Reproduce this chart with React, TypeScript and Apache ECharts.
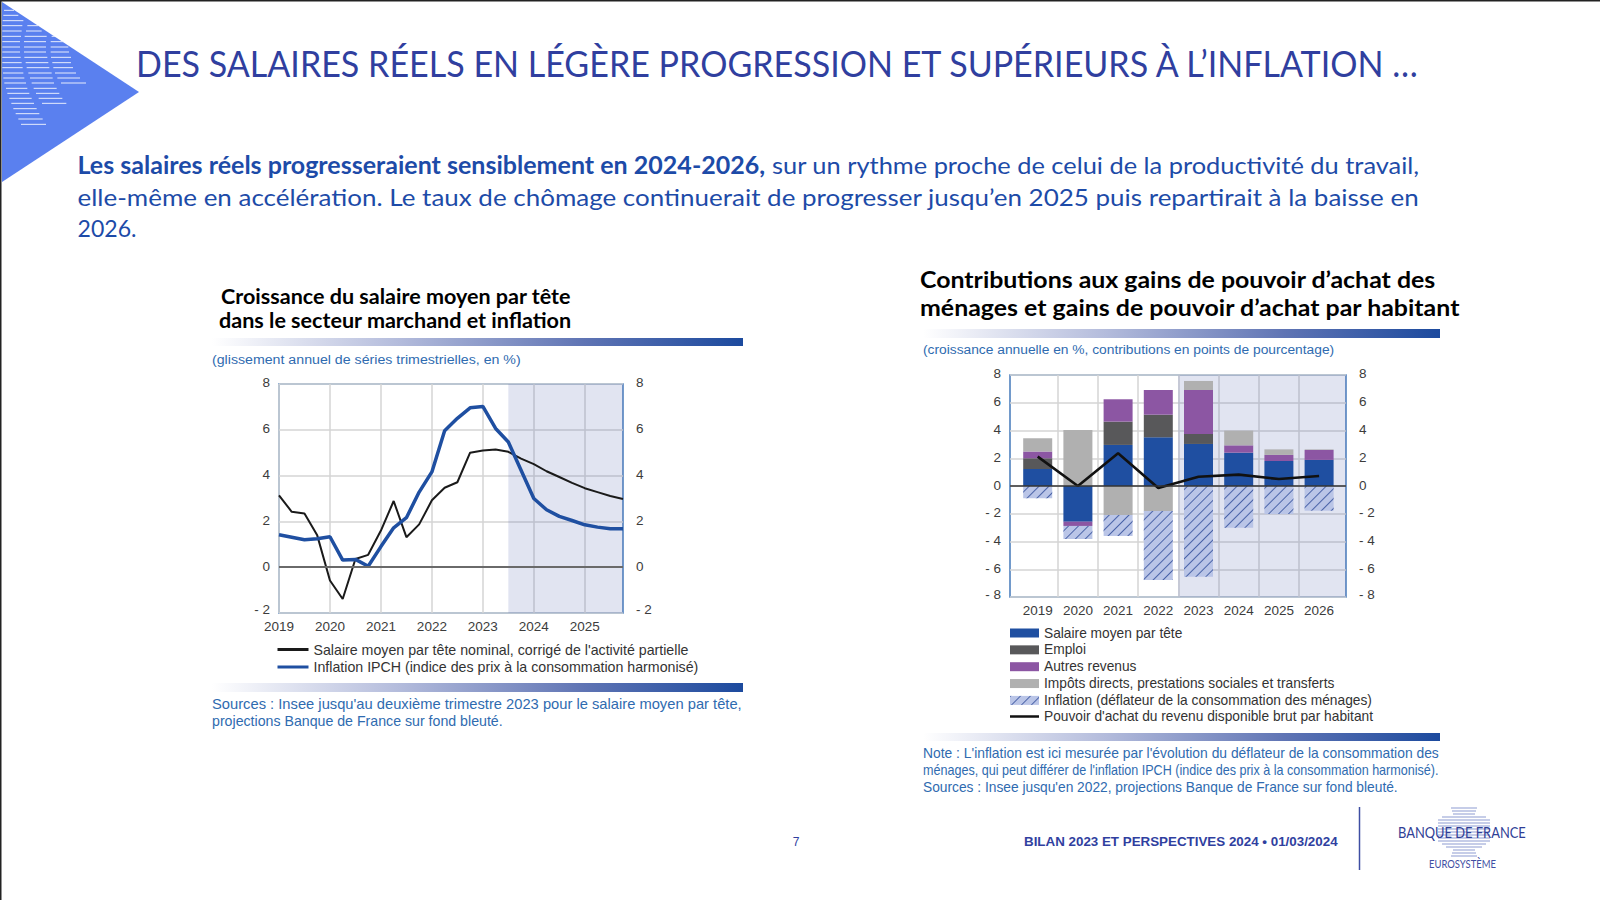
import React, { useEffect, useRef } from "react";
import * as echarts from "echarts";

const FONT_UI = '"Liberation Sans", Arial, sans-serif';

// Left chart data
const quarters = [
  "2019T1","2019T2","2019T3","2019T4","2020T1","2020T2","2020T3","2020T4",
  "2021T1","2021T2","2021T3","2021T4","2022T1","2022T2","2022T3","2022T4",
  "2023T1","2023T2","2023T3","2023T4","2024T1","2024T2","2024T3","2024T4",
  "2025T1","2025T2","2025T3","2025T4",
];
const salaireNominal = [
  3.14,2.42,2.34,1.39,-0.58,-1.39,0.36,0.54,1.6,2.89,1.31,1.87,2.92,3.47,3.71,5.0,
  5.1,5.14,5.04,4.74,4.5,4.19,3.94,3.68,3.45,3.28,3.11,2.98,
];
const inflationIpch = [
  1.42,1.31,1.2,1.24,1.33,0.31,0.34,0.04,0.9,1.72,2.16,3.28,4.16,5.96,6.5,6.96,
  7.02,6.06,5.47,4.23,3.0,2.51,2.22,2.04,1.85,1.75,1.68,1.68,
];

// Right chart data
const years = ["2019","2020","2021","2022","2023","2024","2025","2026"];
const salaireContrib = [1.23,-2.57,2.96,3.51,3.03,2.4,1.8,1.88];
const emploi = [0.77,0,1.68,1.63,0.72,0,0,0];
const autresRevenus = [0.48,-0.31,1.61,1.78,3.17,0.53,0.44,0.72];
const impots = [0.96,4.04,-2.09,-1.8,0.65,1.06,0.4,0.04];
const inflationDeflateur = [-0.89,-0.94,-1.51,-4.98,-6.54,-3.0,-2.02,-1.78];
const pouvoirAchat = [2.12,0.0,2.36,-0.14,0.67,0.82,0.5,0.72];

const NAME_SAL_NOM = "Salaire moyen par tête nominal, corrigé de l'activité partielle";
const NAME_IPCH = "Inflation IPCH (indice des prix à la consommation harmonisé)";
const NAME_SAL = "Salaire moyen par tête";
const NAME_EMP = "Emploi";
const NAME_AUT = "Autres revenus";
const NAME_IMP = "Impôts directs, prestations sociales et transferts";
const NAME_INF = "Inflation (déflateur de la consommation des ménages)";
const NAME_POU = "Pouvoir d'achat du revenu disponible brut par habitant";

const SHADE = "rgba(90,105,180,0.18)";
const FRAME = "#4479ba";
const GRIDLINE = "#d4d4d4";
const AXISTXT = "#3c3c3c";
const BLUE = "#1f4fa1";
const NOTE = "#2f6bb0";
const TITLE_BLUE = "#303f9f";
const BODY_BLUE = "#1d4ba8";

const rowsA: number[][] = [
  [31,12,42],[46,10,55],[62,8,70],[77,7,67],[93,7,65],[109,7,63],[125,7,60],[141,7,60],[156,7,60],[172,7,62],
  [188,7,65],[203,7,68],[219,9,70],[234,10,73],[249,13,78],[265,18,82],[280,22,88],[295,28,95],[310,34,102],
  [326,40,110],[341,47,118],[357,55,128],[373,63,138],
  [77,82,115],[93,78,125],[109,74,140],[125,72,138],[141,72,138],[156,72,138],[172,73,142],[188,77,145],
  [203,80,148],[219,85,155],[234,90,158],[249,95,162],[265,101,170],[280,108,178],[295,116,187],[310,126,199],
  [109,155,165],[125,152,190],[141,152,205],[156,152,207],[172,153,213],[188,157,213],[203,160,219],[219,165,228],
  [234,172,240],[249,183,258],
];
const starRows: number[][] = [
  [-24,13],[-21,12],[-18,11],[-15,22],[-12,26],[-9,26],[-6,26],[-3,26],[0,26],[3,26],[6,26],[9,26],[12,22],[15,18],[18,11],[21,12],[24,13],
];

const measureCtx = document.createElement("canvas").getContext("2d")!;

function fit(text: string, x: number, y: number, width: number, font: string, fill: string) {
  measureCtx.font = font;
  const w = measureCtx.measureText(text).width;
  return {
    type: "text", x, y, scaleX: width / w, silent: true,
    style: { text, font, fill, textAlign: "left", textVerticalAlign: "middle", textBaseline: "middle" },
  };
}

function gradientBar(x: number, y: number, w: number, h: number) {
  return {
    type: "rect", silent: true, shape: { x, y, width: w, height: h },
    style: {
      fill: new echarts.graphic.LinearGradient(0, 0, 1, 0, [
        { offset: 0, color: "#ffffff" },
        { offset: 0.35, color: "#b4bcdc" },
        { offset: 0.7, color: "#5f74b4" },
        { offset: 1, color: "#1c4a9e" },
      ]),
    },
  };
}

function buildGraphic() {
  const els: any[] = [];
  els.push({ type: "rect", silent: true, shape: { x: 0, y: 0, width: 1600, height: 1.5 }, style: { fill: "#222" } });
  els.push({ type: "rect", silent: true, shape: { x: 0, y: 0, width: 1.5, height: 900 }, style: { fill: "#222" } });
  els.push({ type: "polygon", silent: true, shape: { points: [[2, 2], [139, 92], [2, 182]] }, style: { fill: "#5a80ef" } });
  rowsA.forEach(([y, a, b]) =>
    els.push({ type: "line", silent: true, shape: { x1: a / 3, y1: y / 3, x2: b / 3, y2: y / 3 }, style: { stroke: "#e6ebfc", lineWidth: 1 } })
  );
  els.push(fit("DES SALAIRES RÉELS EN LÉGÈRE PROGRESSION ET SUPÉRIEURS À L’INFLATION …", 136, 63, 1285, "36px Lato", TITLE_BLUE));

  els.push(fit("Les salaires réels progresseraient sensiblement en 2024-2026,", 77.5, 164.5, 688, "bold 24px Lato", BODY_BLUE));
  els.push(fit("sur un rythme proche de celui de la productivité du travail,", 772, 164.5, 648, "24px Lato", BODY_BLUE));
  els.push(fit("elle-même en accélération. Le taux de chômage continuerait de progresser jusqu’en 2025 puis repartirait à la baisse en", 77.5, 196, 1342.5, "24px Lato", BODY_BLUE));
  els.push(fit("2026.", 77.5, 228, 59, "24px Lato", BODY_BLUE));

  // Left panel
  els.push(fit("Croissance du salaire moyen par tête", 221, 296, 350, "bold 21px Lato", "#000"));
  els.push(fit("dans le secteur marchand et inflation", 219, 320, 353, "bold 21px Lato", "#000"));
  els.push(gradientBar(212, 338, 531, 8));
  els.push(fit("(glissement annuel de séries trimestrielles, en %)", 212, 359, 309, `13.5px ${FONT_UI}`, NOTE));
  els.push(gradientBar(212, 683, 531, 9));
  els.push(fit("Sources : Insee jusqu'au deuxième trimestre 2023 pour le salaire moyen par tête,", 212, 704, 530, `14px ${FONT_UI}`, NOTE));
  els.push(fit("projections Banque de France sur fond bleuté.", 212, 721, 291, `14px ${FONT_UI}`, NOTE));

  // Right panel
  els.push(fit("Contributions aux gains de pouvoir d’achat des", 920, 279, 516, "bold 23px Lato", "#000"));
  els.push(fit("ménages et gains de pouvoir d’achat par habitant", 920, 307, 541, "bold 23px Lato", "#000"));
  els.push(gradientBar(923, 329, 517, 9));
  els.push(fit("(croissance annuelle en %, contributions en points de pourcentage)", 923, 350, 412, `13.5px ${FONT_UI}`, NOTE));
  els.push(gradientBar(923, 733, 517, 8));
  els.push(fit("Note : L'inflation est ici mesurée par l'évolution du déflateur de la consommation des", 923, 753, 516, `14px ${FONT_UI}`, NOTE));
  els.push(fit("ménages, qui peut différer de l'inflation IPCH (indice des prix à la consommation harmonisé).", 923, 770, 516, `14px ${FONT_UI}`, NOTE));
  els.push(fit("Sources : Insee jusqu'en 2022, projections Banque de France sur fond bleuté.", 923, 787, 475, `14px ${FONT_UI}`, NOTE));

  // Footer
  els.push({ type: "text", silent: true, x: 796, y: 842, style: { text: "7", font: `12px ${FONT_UI}`, fill: TITLE_BLUE, textAlign: "center", textVerticalAlign: "middle" } });
  els.push(fit("BILAN 2023 ET PERSPECTIVES 2024 • 01/03/2024", 1024, 841.5, 314, `bold 13px ${FONT_UI}`, TITLE_BLUE));
  els.push({ type: "line", silent: true, shape: { x1: 1359.5, y1: 807, x2: 1359.5, y2: 870 }, style: { stroke: "#3e4ea3", lineWidth: 1.5 } });

  starRows.forEach(([dy, w]) =>
    els.push({ type: "line", silent: true, shape: { x1: 1464 - w, y1: 832 + dy, x2: 1464 + w, y2: 832 + dy }, style: { stroke: "#c6cde8", lineWidth: 2 } })
  );
  els.push(fit("BANQUE DE FRANCE", 1398, 832, 128, "15px Lato", "#2f3e96"));
  els.push(fit("EUROSYSTÈME", 1429, 864, 67, "10.5px Lato", "#3e4ea3"));
  return els;
}

const yLabel = (v: number) => (v < 0 ? `- ${Math.abs(v)}` : `${v}`);

function yAxisPair(gridIndex: number, min: number, max: number, liftMax: number, liftMin: number) {
  const tok = { color: AXISTXT, fontFamily: FONT_UI, fontSize: 13.5 };
  const common = {
    type: "value", gridIndex, min, max, interval: 2,
    axisLine: { show: false }, axisTick: { show: false },
    axisLabel: {
      margin: 9,
      formatter: (v: number) => `{${v === min ? "lo" : v === max ? "hi" : "mid"}|${yLabel(v)}}`,
      rich: {
        mid: { ...tok, padding: [0, 0, 2, 0] },
        hi: { ...tok, padding: [0, 0, liftMax, 0] },
        lo: { ...tok, padding: [0, 0, liftMin, 0] },
      },
    },
  };
  return [
    { ...common, position: "left", splitLine: { show: true, lineStyle: { color: GRIDLINE, width: 1.5 } } },
    { ...common, position: "right", splitLine: { show: false }, axisLabel: { ...common.axisLabel, margin: 13 } },
  ];
}

const legendText = (size: number) => ({ color: "#333", fontFamily: FONT_UI, fontSize: size });

function buildOption() {
  const xRightMin = -0.69;
  const xRightMax = 7.69;
  const barsGrid = { xAxisIndex: 2, yAxisIndex: 4 };
  return {
    animation: false,
    backgroundColor: "#ffffff",
    graphic: { elements: buildGraphic() },
    legend: [
      {
        left: 277.5, top: 642.5, padding: 0, orient: "vertical", itemWidth: 31, itemHeight: 3, itemGap: 3.5,
        icon: "rect", textStyle: legendText(14.2), data: [NAME_SAL_NOM, NAME_IPCH], selectedMode: false,
      },
      {
        left: 1010, top: 626, padding: 0, orient: "vertical", itemWidth: 29, itemHeight: 9, itemGap: 2.85,
        icon: "rect", textStyle: legendText(13.75), data: [NAME_SAL, NAME_EMP, NAME_AUT, NAME_IMP, NAME_INF], selectedMode: false,
      },
      {
        left: 1010, top: 709.5, padding: 0, orient: "vertical", itemWidth: 29, itemHeight: 2.5,
        icon: "rect", textStyle: legendText(13.75), data: [NAME_POU], selectedMode: false,
      },
    ],
    grid: [
      { left: 279, top: 384, width: 344, height: 229, show: true, borderColor: FRAME, borderWidth: 1.5, backgroundColor: "transparent" },
      { left: 1010, top: 375, width: 336, height: 222, show: true, borderColor: FRAME, borderWidth: 1.5, backgroundColor: "transparent" },
      { left: 1017.6, top: 375, width: 321.6, height: 222 },
    ],
    xAxis: [
      {
        type: "category", gridIndex: 0, data: quarters, boundaryGap: false,
        axisLine: { show: false }, axisTick: { show: false },
        axisLabel: {
          interval: 3, color: AXISTXT, fontFamily: FONT_UI, fontSize: 13.5, margin: 6,
          formatter: (v: string) => v.slice(0, 4),
        },
        splitLine: { show: true, interval: 3, lineStyle: { color: GRIDLINE, width: 1.5 } },
      },
      {
        type: "value", gridIndex: 1, min: xRightMin, max: xRightMax, show: false,
        splitLine: { show: false },
      },
      {
        type: "category", gridIndex: 2, data: years,
        axisLine: { show: false }, axisTick: { show: false },
        axisLabel: { interval: 0, color: AXISTXT, fontFamily: FONT_UI, fontSize: 13.5, margin: 6 },
        splitLine: { show: true, interval: 0, showMinLine: false, showMaxLine: false, lineStyle: { color: GRIDLINE, width: 1.5 } },
      },
    ],
    yAxis: [
      ...yAxisPair(0, -2, 8, 4, 8),
      ...yAxisPair(1, -8, 8, 3, 6),
      { type: "value", gridIndex: 2, min: -8, max: 8, interval: 2, show: false, splitLine: { show: false } },
    ],
    series: [
      {
        name: "_fond1", type: "line", xAxisIndex: 0, yAxisIndex: 0, data: [], z: 1, silent: true,
        markArea: { silent: true, itemStyle: { color: SHADE }, data: [[{ xAxis: "2023T3" }, { xAxis: "2025T4" }]] },
        markLine: { silent: true, symbol: "none", label: { show: false }, lineStyle: { color: "#6a6a6a", width: 2, type: "solid" }, data: [{ yAxis: 0 }] },
      },
      {
        name: NAME_SAL_NOM, type: "line", xAxisIndex: 0, yAxisIndex: 0, data: salaireNominal, showSymbol: false, symbol: "none", z: 3,
        lineStyle: { color: "#1a1a1a", width: 2 }, itemStyle: { color: "#1a1a1a" },
      },
      {
        name: NAME_IPCH, type: "line", xAxisIndex: 0, yAxisIndex: 0, data: inflationIpch, showSymbol: false, symbol: "none", z: 4,
        lineStyle: { color: BLUE, width: 3.5 }, itemStyle: { color: BLUE },
      },
      {
        name: "_fond2", type: "line", xAxisIndex: 1, yAxisIndex: 2, data: [], z: 1, silent: true,
        markArea: { silent: true, itemStyle: { color: SHADE }, data: [[{ xAxis: 3.5 }, { xAxis: xRightMax }]] },
      },
      ...[
        { name: NAME_SAL, values: salaireContrib, color: BLUE },
        { name: NAME_EMP, values: emploi, color: "#58585a" },
        { name: NAME_AUT, values: autresRevenus, color: "#8c56a3" },
        { name: NAME_IMP, values: impots, color: "#b0b0b0" },
      ].map((s) => ({
        name: s.name, type: "bar", ...barsGrid, stack: "c", barWidth: 29, z: 2,
        data: s.values, itemStyle: { color: s.color },
      })),
      {
        name: NAME_INF, type: "bar", ...barsGrid, stack: "c", barWidth: 29, z: 2,
        data: inflationDeflateur,
        itemStyle: {
          color: "#bac5e7",
          decal: { symbol: "rect", color: "#4a63a8", dashArrayX: [1, 0], dashArrayY: [1, 6], rotation: -Math.PI / 4, symbolSize: 1 },
        },
      },
      {
        name: "_zero2", type: "line", xAxisIndex: 1, yAxisIndex: 2, data: [], z: 3, silent: true,
        markLine: { silent: true, symbol: "none", label: { show: false }, lineStyle: { color: "#333", width: 1.5, type: "solid" }, data: [{ yAxis: 0 }] },
      },
      {
        name: NAME_POU, type: "line", ...barsGrid, data: pouvoirAchat, showSymbol: false, symbol: "none", z: 4,
        lineStyle: { color: "#111", width: 2.6 }, itemStyle: { color: "#111" },
      },
    ],
  };
}

export default function App() {
  const ref = useRef<HTMLDivElement>(null);
  useEffect(() => {
    document.body.style.margin = "0";
    const chart = echarts.init(ref.current!, undefined, { renderer: "svg" });
    chart.setOption(buildOption() as any);
    return () => chart.dispose();
  }, []);
  return <div ref={ref} style={{ position: "absolute", left: 0, top: 0, width: 1600, height: 900 }} />;
}
